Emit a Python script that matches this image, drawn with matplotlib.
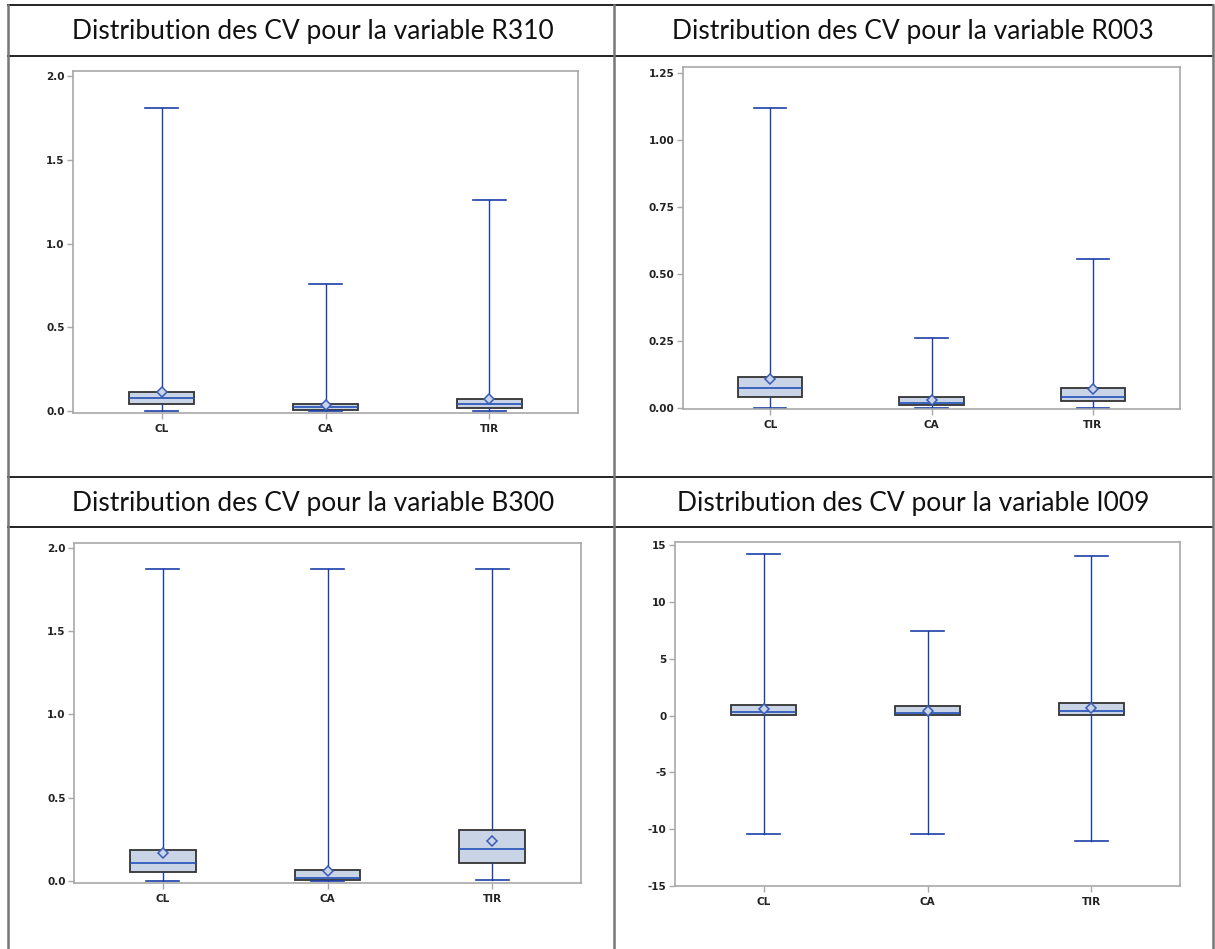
import matplotlib
matplotlib.use("Agg")
import matplotlib.pyplot as plt
from matplotlib.lines import Line2D

W, H = 1215, 949

categories = ["CL", "CA", "TIR"]

# one list per variable: (q1, median, q3, min, max, mean) per category
r310_q1 = [0.042, 0.007, 0.020]
r310_med = [0.076, 0.021, 0.040]
r310_q3 = [0.113, 0.040, 0.074]
r310_min = [0.0, 0.0, 0.0]
r310_max = [1.81, 0.76, 1.26]
r310_mean = [0.115, 0.033, 0.072]

r003_q1 = [0.040, 0.010, 0.025]
r003_med = [0.073, 0.020, 0.040]
r003_q3 = [0.115, 0.040, 0.075]
r003_min = [0.0, 0.0, 0.0]
r003_max = [1.12, 0.26, 0.555]
r003_mean = [0.108, 0.030, 0.070]

b300_q1 = [0.054, 0.006, 0.108]
b300_med = [0.108, 0.021, 0.190]
b300_q3 = [0.186, 0.066, 0.306]
b300_min = [0.0, 0.0, 0.005]
b300_max = [1.875, 1.875, 1.875]
b300_mean = [0.168, 0.058, 0.240]

i009_q1 = [0.09, 0.10, 0.10]
i009_med = [0.30, 0.25, 0.45]
i009_q3 = [0.97, 0.85, 1.10]
i009_min = [-10.4, -10.4, -11.0]
i009_max = [14.2, 7.5, 14.1]
i009_mean = [0.55, 0.45, 0.70]

titles = ["Distribution des CV pour la variable R310",
          "Distribution des CV pour la variable R003",
          "Distribution des CV pour la variable B300",
          "Distribution des CV pour la variable I009"]

BOX_FILL = "#c9d5e7"
BLUE = "#1b3fa8"


def px_rect(left, top, right, bottom):
    return [left / W, 1 - bottom / H, (right - left) / W, (bottom - top) / H]


def make_stats(q1, med, q3, lo, hi, mean):
    return [dict(q1=a, med=b, q3=c, whislo=d, whishi=e, mean=f, fliers=[], label=lab)
            for a, b, c, d, e, f, lab in zip(q1, med, q3, lo, hi, mean, categories)]


def draw_panel(fig, rect, stats, ylim, yticks, fmt):
    ax = fig.add_axes(px_rect(*rect))
    ax.bxp(stats, positions=[1, 2, 3], widths=0.4, capwidths=0.2,
           showmeans=True, patch_artist=True,
           boxprops=dict(facecolor=BOX_FILL, edgecolor="#333333", linewidth=1.3),
           medianprops=dict(color="#2450b8", linewidth=1.2),
           whiskerprops=dict(color=BLUE, linewidth=1.0),
           capprops=dict(color=BLUE, linewidth=1.2),
           meanprops=dict(marker="D", markersize=5, markerfacecolor=BOX_FILL,
                          markeredgecolor="#3a5cb8", markeredgewidth=1.1))
    ax.set_xlim(0.46, 3.54)
    ax.set_ylim(*ylim)
    ax.set_yticks(yticks)
    ax.set_yticklabels([fmt.format(t) for t in yticks])
    for s in ax.spines.values():
        s.set_color("#a8a8a8")
        s.set_linewidth(1.2)
    ax.tick_params(axis="both", colors="#a8a8a8", labelcolor="#222222",
                   labelsize=7.5, length=4, width=1.0, pad=2)
    ax.tick_params(axis="x", pad=4)
    for lab in ax.get_xticklabels() + ax.get_yticklabels():
        lab.set_fontweight("semibold")
        lab.set_family("DejaVu Sans")
    return ax


fig = plt.figure(figsize=(W / 100, H / 100), dpi=100)

draw_panel(fig, (73, 71, 578, 413),
           make_stats(r310_q1, r310_med, r310_q3, r310_min, r310_max, r310_mean),
           (-0.012, 2.03), [0.0, 0.5, 1.0, 1.5, 2.0], "{:.1f}")
draw_panel(fig, (683, 67, 1180, 409),
           make_stats(r003_q1, r003_med, r003_q3, r003_min, r003_max, r003_mean),
           (-0.004, 1.272), [0.0, 0.25, 0.5, 0.75, 1.0, 1.25], "{:.2f}")
draw_panel(fig, (74, 543, 581, 883),
           make_stats(b300_q1, b300_med, b300_q3, b300_min, b300_max, b300_mean),
           (-0.012, 2.03), [0.0, 0.5, 1.0, 1.5, 2.0], "{:.1f}")
draw_panel(fig, (675, 542, 1180, 886),
           make_stats(i009_q1, i009_med, i009_q3, i009_min, i009_max, i009_mean),
           (-15, 15.3), [-15, -10, -5, 0, 5, 10, 15], "{:d}")


# table grid drawn in figure pixel space
def hline(y, x0=8, x1=1213):
    fig.add_artist(Line2D([x0 / W, x1 / W], [1 - y / H, 1 - y / H],
                          color="#222222", linewidth=1.4))


def vline(x, y0=5, y1=949):
    fig.add_artist(Line2D([x / W, x / W], [1 - y0 / H, 1 - y1 / H],
                          color="#777777", linewidth=1.8))


for y in (5, 56, 477, 527):
    hline(y)
for x in (8, 614, 1213):
    vline(x)

centers = [(313, 31), (913, 31), (313, 503), (913, 503)]
for (cx, cy), t in zip(centers, titles):
    fig.text(cx / W, 1 - cy / H, t, ha="center", va="center", fontsize=19,
             family=["Lato", "DejaVu Sans"], color="#111111")

fig.savefig("out.png", dpi=100)
